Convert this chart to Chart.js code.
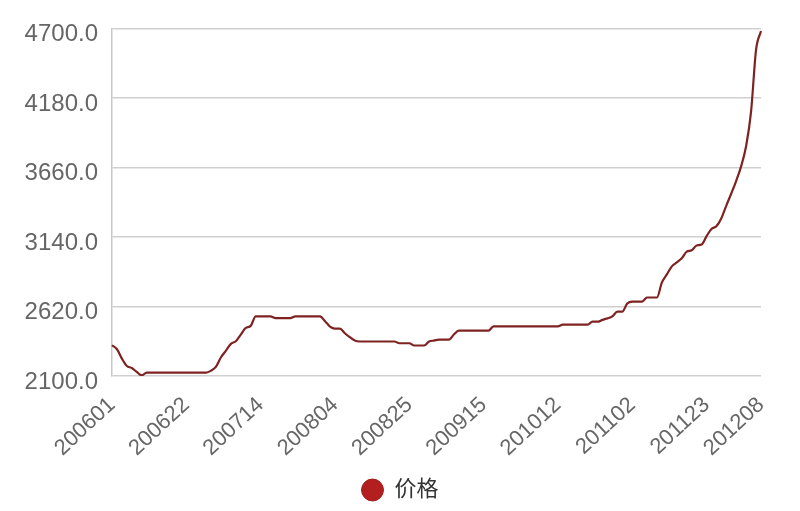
<!DOCTYPE html>
<html>
<head>
<meta charset="utf-8">
<script src="https://cdn.jsdelivr.net/npm/chart.js@4"></script>
<style>
  html,body{margin:0;padding:0;background:#fff;}
  #wrap{width:800px;height:511px;position:relative;}
</style>
</head>
<body>
<div id="wrap"><canvas id="c"></canvas></div>
<script>
const dates = [
  '200601','200602','200603','200604','200605','200608','200609','200610','200611','200612',
  '200615','200616','200617','200618','200619','200622','200623','200624','200628','200629',
  '200630','200701','200702','200703','200706','200707','200708','200709','200710','200713',
  '200714','200715','200716','200717','200720','200721','200722','200723','200724','200727',
  '200728','200729','200730','200731','200803','200804','200805','200806','200807','200810',
  '200811','200812','200813','200814','200817','200818','200819','200820','200821','200824',
  '200825','200826','200827','200828','200831','200901','200902','200903','200904','200907',
  '200908','200909','200910','200911','200914','200915','200916','200917','200918','200921',
  '200922','200923','200924','200925','200927','200928','200929','200930','201009','201010',
  '201012','201013','201014','201015','201016','201019','201020','201021','201022','201023',
  '201026','201027','201028','201029','201030','201102','201103','201104','201105','201106',
  '201109','201110','201111','201112','201113','201116','201117','201118','201119','201120',
  '201123','201124','201125','201126','201127','201130','201201','201202','201203','201204',
  '201207','201208'
];
const prices = [
  2330,2300,2230,2175,2160,2130,2105,2125,2125,2125,
  2125,2125,2125,2125,2125,2125,2125,2125,2125,2125,
  2140,2170,2240,2290,2340,2360,2410,2460,2475,2546,
  2546,2546,2546,2533,2533,2533,2533,2546,2546,2546,
  2546,2546,2546,2510,2470,2455,2455,2420,2390,2365,
  2358,2358,2358,2358,2358,2358,2358,2358,2345,2345,
  2345,2328,2328,2328,2358,2365,2372,2372,2372,2410,
  2439,2439,2439,2439,2439,2439,2439,2471,2471,2471,
  2471,2471,2471,2471,2471,2471,2471,2471,2471,2471,
  2471,2484,2484,2484,2484,2484,2484,2506,2506,2520,
  2531,2546,2581,2581,2642,2657,2657,2657,2687,2687,
  2687,2800,2860,2920,2950,2980,3030,3040,3076,3083,
  3145,3200,3220,3280,3375,3465,3560,3670,3820,4080,
  4540,4680
];
const tickLabels = ['200601','200622','200714','200804','200825','200915','201012','201102','201123','201208'];
const yMin = 2100, yMax = 4700, yStep = 520;
const seriesName = '价格';

const FONT = "'Liberation Sans', 'Noto Sans CJK SC', sans-serif";

new Chart(document.getElementById('c'), {
  type: 'line',
  data: {
    labels: dates,
    datasets: [{
      label: seriesName,
      data: prices,
      yAxisID: 'y',
      borderColor: '#7e2222',
      backgroundColor: '#b31f1f',
      borderWidth: 2.2,
      pointRadius: 0,
      pointHoverRadius: 0,
      cubicInterpolationMode: 'monotone',
      fill: false
    }]
  },
  options: {
    responsive: true,
    maintainAspectRatio: false,
    animation: false,
    layout: { padding: { top: 24, right: 0, left: 0, bottom: 0 } },
    plugins: {
      tooltip: { enabled: false },
      legend: {
        position: 'bottom',
        labels: {
          usePointStyle: true,
          pointStyle: 'circle',
          boxHeight: 15.5,
          boxWidth: 22,
          padding: 12,
          color: '#333',
          font: { family: FONT, size: 22 },
          generateLabels: function(chart) {
            const items = Chart.defaults.plugins.legend.labels.generateLabels(chart);
            items.forEach(function(it){ it.fillStyle = '#b31f1f'; it.strokeStyle = '#a51c1c'; it.lineWidth = 1; });
            return items;
          }
        }
      }
    },
    scales: {
      x: {
        grid: { display: false },
        border: { display: false },
        ticks: {
          autoSkip: false,
          minRotation: 43,
          maxRotation: 43,
          padding: 8,
          color: '#666',
          font: { family: FONT, size: 22 },
          callback: function(v, i) {
            const l = dates[i];
            return tickLabels.includes(l) ? l : null;
          }
        },
        afterFit: function(s) { s.height = 91; }
      },
      y: {
        min: yMin,
        max: yMax,
        grid: { color: '#d0d0d0', lineWidth: 1.5, drawTicks: false },
        border: { display: true, color: '#c8c8c8', width: 1.5 },
        ticks: {
          stepSize: yStep,
          padding: 14,
          labelOffset: 6,
          color: '#666',
          font: { family: FONT, size: 24 },
          callback: function(v) { return Number(v).toFixed(1); }
        },
        afterFit: function(s) { s.width = 112; }
      },
      yR: {
        type: 'linear',
        position: 'right',
        min: yMin,
        max: yMax,
        grid: { display: false, drawOnChartArea: false },
        border: { display: false },
        ticks: { display: false },
        afterFit: function(s) { s.width = 39; }
      }
    }
  }
});
</script>
</body>
</html>
